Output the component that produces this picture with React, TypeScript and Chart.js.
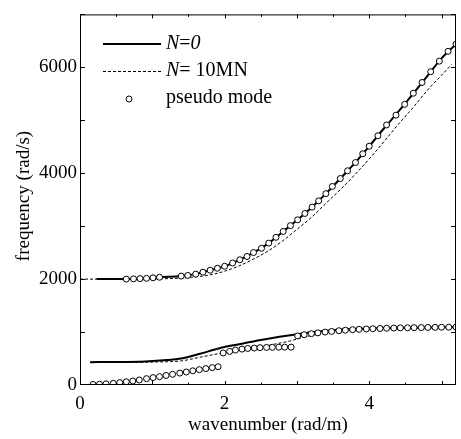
import { useEffect, useRef } from "react";
import { Chart, registerables } from "chart.js";
Chart.register(...registerables);

// wavenumber k (rad/m) and frequency w (rad/s)
const n0LowerK = [0.14, 0.5, 0.9, 1.2, 1.4, 1.66, 1.93, 2.2, 2.5, 2.76, 3.03, 3.3, 3.59, 4.0, 4.5, 5.0, 5.2];
const n0LowerW = [432, 434, 445, 470, 500, 590, 695, 770, 850, 910, 965, 1010, 1045, 1068, 1082, 1090, 1094];

const n10LowerK = [0.14, 0.5, 0.9, 1.2, 1.4, 1.66, 1.93, 2.2, 2.48, 2.7, 2.9, 3.1, 3.3, 3.6, 4.0, 4.5, 5.2];
const n10LowerW = [430, 430, 432, 440, 455, 525, 595, 650, 710, 775, 830, 905, 960, 1020, 1060, 1078, 1092];

const n0UpperK = [0.23, 0.64, 0.9, 1.1, 1.4, 1.6, 1.8, 2.0, 2.2, 2.4, 2.6, 2.8, 3.0, 3.2, 3.4, 3.6, 3.8, 4.0, 4.2, 4.4, 4.6, 4.8, 5.0, 5.2];
const n0UpperW = [2000, 2000, 2012, 2035, 2057, 2094, 2168, 2243, 2360, 2500, 2670, 2890, 3110, 3350, 3614, 3900, 4190, 4510, 4840, 5160, 5490, 5830, 6170, 6437];

const n10UpperK = [0, 0.5, 1.0, 1.4, 1.8, 2.0, 2.2, 2.4, 2.6, 2.8, 3.0, 3.2, 3.4, 3.6, 3.8, 4.0, 4.2, 4.4, 4.6, 4.8, 5.0, 5.14];
const n10UpperW = [2000, 2000, 2005, 2020, 2080, 2150, 2250, 2380, 2530, 2720, 2940, 3165, 3430, 3690, 3970, 4270, 4590, 4920, 5230, 5560, 5850, 6055];

const pseudoLowerK = [
  0.18, 0.27, 0.36, 0.46, 0.55, 0.64, 0.73, 0.82, 0.92, 1.01, 1.10, 1.19, 1.28, 1.38, 1.47, 1.56, 1.65, 1.74, 1.83, 1.91,
  1.98, 2.07, 2.15, 2.24, 2.32, 2.41, 2.49, 2.58, 2.66, 2.75, 2.83, 2.92,
  3.01, 3.10, 3.20, 3.29, 3.39, 3.48, 3.58, 3.67, 3.77, 3.86, 3.96, 4.05, 4.15, 4.24, 4.34, 4.43, 4.53, 4.62, 4.72, 4.81, 4.91, 5.00, 5.10, 5.20,
];
const pseudoLowerW = [
  10, 15, 22, 31, 45, 60, 75, 95, 120, 140, 158, 180, 202, 225, 245, 268, 290, 310, 328, 345,
  605, 635, 660, 678, 690, 698, 705, 710, 712, 714, 715, 715,
  927, 950, 970, 985, 1000, 1012, 1025, 1035, 1045, 1052, 1058, 1063, 1068, 1072, 1076, 1079, 1081, 1083, 1085, 1087, 1089, 1091, 1092, 1094,
];

const pseudoUpperK = [
  0.64, 0.74, 0.83, 0.92, 1.01, 1.10,
  1.40, 1.49, 1.60, 1.70, 1.80, 1.90, 2.00, 2.11, 2.21, 2.31, 2.40, 2.51, 2.61, 2.71, 2.81, 2.91, 3.01, 3.11, 3.21,
  3.30, 3.40, 3.49, 3.60, 3.70, 3.81, 3.91, 4.00, 4.12, 4.24, 4.37, 4.49, 4.61, 4.73, 4.85, 4.97, 5.09, 5.20,
];
const pseudoUpperW = [
  2000, 2005, 2010, 2015, 2025, 2035,
  2057, 2070, 2094, 2131, 2168, 2205, 2243, 2304, 2366, 2428, 2502, 2582, 2680, 2790, 2900, 3010, 3120, 3240, 3360,
  3478, 3614, 3750, 3900, 4046, 4202, 4368, 4510, 4708, 4912, 5097, 5301, 5511, 5714, 5918, 6117, 6302, 6437,
];

const xTickLabels = [0, 2, 4];
const yTickLabels = [0, 2000, 4000, 6000];

const FONT = "'Liberation Serif', 'Times New Roman', serif";

const pts = (k: number[], w: number[]) => k.map((x, i) => ({ x, y: w[i] }));

const framePlugin = {
  id: "frameTicksLegend",
  afterDraw(chart: any) {
    const { ctx, chartArea: a, scales } = chart;
    ctx.save();
    ctx.strokeStyle = "#000";
    ctx.lineWidth = 1;
    ctx.setLineDash([]);
    ctx.strokeRect(a.left + 0.5, a.top + 0.5, a.right - a.left - 1, a.bottom - a.top - 1);
    // inward ticks on x (bottom and top)
    const xs = scales.x;
    xs.ticks.forEach((t: any) => {
      if (t.value <= 0) return;
      const px = Math.round(xs.getPixelForValue(t.value)) + 0.5;
      const len = Math.abs(t.value - Math.round(t.value)) < 1e-6 ? 4 : 2.5;
      ctx.beginPath();
      ctx.moveTo(px, a.bottom);
      ctx.lineTo(px, a.bottom - len);
      ctx.moveTo(px, a.top);
      ctx.lineTo(px, a.top + len);
      ctx.stroke();
    });
    const ys = scales.y;
    ys.ticks.forEach((t: any) => {
      if (t.value <= 0) return;
      const py = Math.round(ys.getPixelForValue(t.value)) + 0.5;
      ctx.beginPath();
      ctx.moveTo(a.left, py);
      ctx.lineTo(a.left + 5, py);
      ctx.moveTo(a.right, py);
      ctx.lineTo(a.right - 5, py);
      ctx.stroke();
    });

    // legend
    const fs = 20;
    const drawParts = (x: number, y: number, parts: [string, boolean][]) => {
      ctx.fillStyle = "#000";
      ctx.textBaseline = "middle";
      ctx.textAlign = "left";
      let cx = x;
      parts.forEach(([s, it]) => {
        ctx.font = `${it ? "italic " : ""}${fs}px ${FONT}`;
        ctx.fillText(s, cx, y);
        cx += ctx.measureText(s).width;
      });
    };
    ctx.lineWidth = 2;
    ctx.beginPath();
    ctx.moveTo(103, 44);
    ctx.lineTo(161, 44);
    ctx.stroke();
    drawParts(166, 44, [["N", true], ["=", false], ["0", true]]);

    ctx.lineWidth = 1;
    ctx.setLineDash([3, 2]);
    ctx.beginPath();
    ctx.moveTo(103, 71.5);
    ctx.lineTo(161, 71.5);
    ctx.stroke();
    ctx.setLineDash([]);
    drawParts(166, 71, [["N", true], ["=", false], [" 10MN", false]]);

    ctx.beginPath();
    ctx.fillStyle = "#fff";
    ctx.arc(129, 99, 3, 0, Math.PI * 2);
    ctx.fill();
    ctx.stroke();
    drawParts(166, 98, [["pseudo mode", false]]);

    // y-axis title
    ctx.save();
    ctx.translate(24, 196);
    ctx.rotate(-Math.PI / 2);
    ctx.font = `19px ${FONT}`;
    ctx.fillStyle = "#000";
    ctx.textAlign = "center";
    ctx.textBaseline = "middle";
    ctx.fillText("frequency (rad/s)", 0, 0);
    ctx.restore();
    ctx.restore();
  },
};

export default function App() {
  const ref = useRef<HTMLCanvasElement | null>(null);
  useEffect(() => {
    if (!ref.current) return;
    const circle = {
      showLine: false,
      pointRadius: 3,
      pointBorderWidth: 1,
      pointBackgroundColor: "#fff",
      pointBorderColor: "#000",
      borderColor: "#000",
    };
    const chart = new Chart(ref.current, {
      type: "scatter",
      data: {
        datasets: [
          { label: "pseudo mode", data: pts(pseudoLowerK, pseudoLowerW), ...circle },
          { label: "pseudo mode upper", data: pts(pseudoUpperK, pseudoUpperW), ...circle },
          {
            label: "N=0", data: pts(n0LowerK, n0LowerW), showLine: true, pointRadius: 0,
            borderColor: "#000", borderWidth: 2, cubicInterpolationMode: "monotone",
          },
          {
            label: "N=0 upper", data: pts(n0UpperK, n0UpperW), showLine: true, pointRadius: 0,
            borderColor: "#000", borderWidth: 2, cubicInterpolationMode: "monotone",
          },
          {
            label: "N=10MN", data: pts(n10LowerK, n10LowerW), showLine: true, pointRadius: 0,
            borderColor: "#000", borderWidth: 1, borderDash: [3, 2], cubicInterpolationMode: "monotone",
          },
          {
            label: "N=10MN upper", data: pts(n10UpperK, n10UpperW), showLine: true, pointRadius: 0,
            borderColor: "#000", borderWidth: 1, borderDash: [3, 2], cubicInterpolationMode: "monotone",
          },
        ] as any,
      },
      options: {
        animation: false,
        responsive: false,
        events: [],
        layout: { padding: { top: 7, right: 4, left: 0, bottom: 0 } },
        plugins: { legend: { display: false }, tooltip: { enabled: false } },
        scales: {
          x: {
            type: "linear",
            min: 0,
            max: 5.2,
            grid: { display: false, drawTicks: false },
            border: { display: false },
            afterFit: (s: any) => { s.height = 54; },
            ticks: {
              stepSize: 0.5,
              includeBounds: false,
              autoSkip: false,
              maxRotation: 0,
              padding: 8,
              color: "#000",
              font: { family: FONT, size: 19 },
              callback: (v: any) => (xTickLabels.includes(Number(v)) ? String(v) : ""),
            },
            title: {
              display: true,
              text: "wavenumber (rad/m)",
              color: "#000",
              font: { family: FONT, size: 19, lineHeight: 1.2 },
              padding: { top: 0, bottom: 3 },
            },
          },
          y: {
            type: "linear",
            min: 0,
            max: 7000,
            grid: { display: false, drawTicks: false },
            border: { display: false },
            afterFit: (s: any) => { s.width = 80; },
            ticks: {
              stepSize: 1000,
              autoSkip: false,
              padding: 3,
              color: "#000",
              font: { family: FONT, size: 19 },
              callback: (v: any) => (yTickLabels.includes(Number(v)) ? String(v) : ""),
            },
          },
        },
      } as any,
      plugins: [framePlugin],
    });
    return () => chart.destroy();
  }, []);
  return (
    <div style={{ position: "fixed", left: 0, top: 0, width: 461, height: 439, background: "#fff" }}>
      <canvas ref={ref} width={461} height={439} style={{ display: "block" }} />
    </div>
  );
}
